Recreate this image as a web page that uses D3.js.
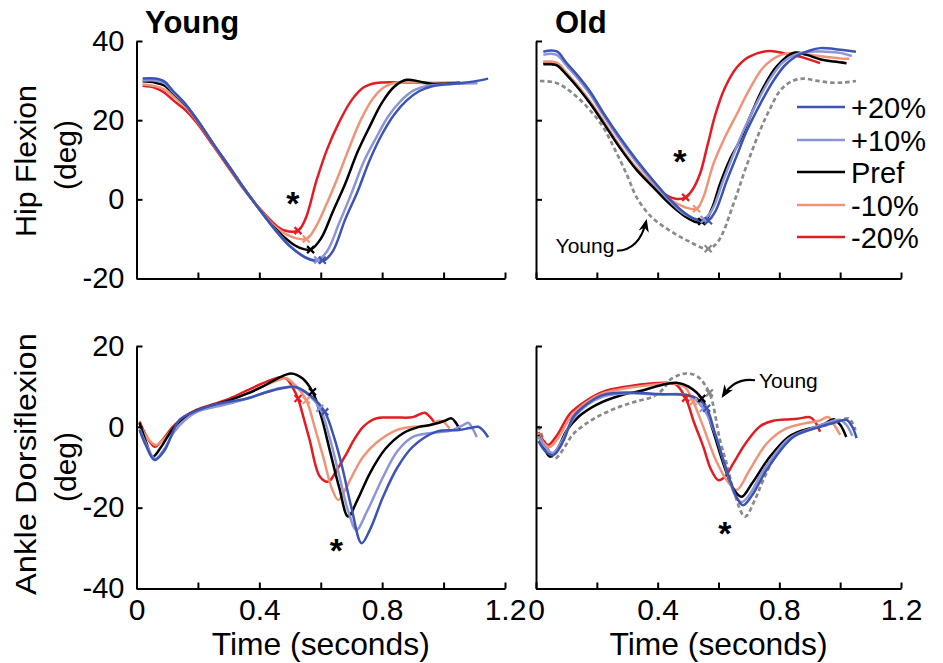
<!DOCTYPE html>
<html><head><meta charset="utf-8">
<script src="https://cdn.jsdelivr.net/npm/d3@7"></script>
<style>
body{margin:0;background:#fff;}
text{font-family:"Liberation Sans",Arial,Helvetica,sans-serif;fill:#000;}
</style></head>
<body><svg id="chart" width="943" height="663"></svg>
<script>
// ---------- DATA ----------
const seriesNames = ["+20%","+10%","Pref","-10%","-20%"];
const seriesColors = ["#3d54b3","#8c95d8","#000000","#f09478","#e31b23"];
const xTicks = [0,0.2,0.4,0.6,0.8,1.0,1.2];
const xTickLabels = ["0","","0.4","","0.8","","1.2"];
const hipTicks = [-20,0,20,40];
const ankleTicks = [-40,-20,0,20];

// Young – hip flexion
const youngHipP20 = [[0.02,30.5],[0.06,30.5],[0.09,29.8],[0.12,27.3],[0.16,24],[0.2,19.8],[0.25,14],[0.3,8.5],[0.35,2.8],[0.4,-2.5],[0.45,-7.6],[0.5,-11.9],[0.55,-14.7],[0.58,-15.5],[0.61,-15.5],[0.64,-13],[0.68,-5],[0.72,2],[0.76,10],[0.8,16.5],[0.84,21.5],[0.88,25],[0.92,27.3],[0.96,28.5],[1.0,29],[1.05,29.3],[1.1,29.8],[1.145,30.5]];
const youngHipP10 = [[0.02,30],[0.06,30],[0.09,29.4],[0.12,27],[0.16,23.9],[0.2,19.8],[0.25,14],[0.3,8.5],[0.35,2.8],[0.4,-2.5],[0.45,-7.5],[0.5,-11.8],[0.55,-14.6],[0.59,-15.3],[0.62,-13.2],[0.66,-6],[0.7,1.5],[0.74,9.5],[0.78,15.5],[0.82,21],[0.86,24.8],[0.9,27.4],[0.95,28.7],[1.0,29],[1.05,29.2],[1.11,29.3]];
const youngHipPref = [[0.02,29.8],[0.06,29.5],[0.09,28.8],[0.12,26.8],[0.16,23.8],[0.2,19.8],[0.25,14],[0.3,8.4],[0.35,2.8],[0.4,-2.5],[0.45,-7.3],[0.5,-10.8],[0.53,-12.2],[0.567,-12.7],[0.6,-10],[0.64,-3],[0.68,4],[0.72,12],[0.76,18.5],[0.8,24.5],[0.84,28.5],[0.88,30.2],[0.92,29.8],[0.96,29.2],[1.0,29.2],[1.053,29.4]];
const youngHipM10 = [[0.02,29],[0.06,28.6],[0.09,27.8],[0.12,26],[0.16,23.3],[0.2,19.5],[0.25,13.8],[0.3,8.2],[0.35,2.6],[0.4,-2.3],[0.45,-6.8],[0.5,-9.3],[0.553,-10],[0.58,-7.5],[0.62,-1],[0.65,4.5],[0.69,12.5],[0.73,20],[0.77,25.5],[0.81,28.5],[0.85,29.5],[0.9,29.6],[0.95,29.4],[1.0,29.4],[1.05,29.4],[1.11,29.6]];
const youngHipM20 = [[0.02,28.7],[0.06,28.2],[0.09,27],[0.12,25],[0.16,22.5],[0.2,19],[0.25,13.5],[0.3,8],[0.35,2.5],[0.4,-2.2],[0.45,-6.3],[0.48,-7.8],[0.526,-7.9],[0.55,-5],[0.586,4.7],[0.62,12.5],[0.66,19.5],[0.7,25],[0.74,28.3],[0.78,29.4],[0.85,29.6],[0.9,29.5],[0.95,29.4],[1.0,29.4],[1.053,29.5]];
const youngHipCross = [[0.605,-15.4],[0.59,-15.3],[0.567,-12.7],[0.553,-10],[0.526,-7.9]];

// Old – hip flexion
const oldHipP20 = [[0.024,37.3],[0.05,37.6],[0.07,37.3],[0.1,34.5],[0.14,31],[0.18,27],[0.22,22],[0.276,15.6],[0.33,10],[0.386,4.7],[0.44,0],[0.49,-3.5],[0.53,-5.2],[0.565,-5.4],[0.59,-3],[0.627,4.7],[0.66,11],[0.693,17.3],[0.74,24.5],[0.78,29.9],[0.82,34],[0.857,36.2],[0.9,37.6],[0.934,38.2],[0.98,38],[1.052,37.3]];
const oldHipP10 = [[0.024,36.5],[0.05,36.8],[0.07,36.4],[0.1,33.8],[0.14,30.3],[0.18,26.3],[0.22,21.4],[0.276,15],[0.33,9.4],[0.386,4.2],[0.44,-0.4],[0.49,-3.8],[0.55,-5.1],[0.58,-2.5],[0.615,4.7],[0.65,11.5],[0.683,17.5],[0.73,25],[0.77,30.5],[0.81,34.5],[0.85,36.5],[0.9,37.3],[0.95,37.3],[1.0,37],[1.038,36.2]];
const oldHipPref = [[0.024,34.1],[0.05,34.1],[0.07,33.8],[0.1,31.5],[0.14,28],[0.18,24],[0.22,19.5],[0.276,13],[0.33,7.5],[0.386,3],[0.44,-1.2],[0.49,-4.3],[0.528,-5.8],[0.555,-5.5],[0.58,-2],[0.605,3.9],[0.64,10.5],[0.67,14.8],[0.71,22],[0.747,28.2],[0.79,33.5],[0.846,37],[0.89,36.5],[0.934,35.4],[0.98,34.8],[1.021,34.4]];
const oldHipM10 = [[0.024,34.8],[0.05,34.8],[0.07,34.5],[0.1,32],[0.14,28.5],[0.18,24.5],[0.22,20],[0.276,13.5],[0.33,8],[0.386,3.5],[0.44,0],[0.49,-2],[0.528,-2.4],[0.55,0.5],[0.583,8.9],[0.62,15.5],[0.66,21.5],[0.7,27.5],[0.747,33.3],[0.8,36.3],[0.85,37],[0.9,36.5],[0.95,36],[1.0,35.6],[1.03,35.5]];
const oldHipM20 = [[0.024,34.5],[0.05,34.5],[0.07,34.2],[0.1,31.8],[0.14,28.3],[0.18,24.3],[0.22,19.8],[0.276,13.3],[0.33,7.8],[0.386,3.5],[0.43,1],[0.462,0.1],[0.492,0.5],[0.515,2.5],[0.539,6.4],[0.565,14],[0.59,21.5],[0.62,28],[0.66,33.3],[0.7,36],[0.769,37.5],[0.82,36.8],[0.879,35.8],[0.934,34.4]];
const oldHipYoung = [[0.013,29.9],[0.05,29.7],[0.07,29.3],[0.1,28],[0.14,25.5],[0.18,22.3],[0.221,18.2],[0.26,12.5],[0.3,6],[0.331,0.5],[0.38,-4.5],[0.44,-7.9],[0.5,-10.5],[0.566,-12.5],[0.6,-10.5],[0.649,-1.2],[0.69,8],[0.736,17.3],[0.77,23],[0.802,27.4],[0.84,29.8],[0.879,30.5],[0.92,30],[0.966,29.5],[1.01,29.5],[1.052,29.9]];
const oldHipCross = [[0.567,-5.4],[0.553,-5.1],[0.545,-5.6],[0.528,-2.4],[0.492,0.5]];
const oldHipYoungCross = [[0.566,-12.5]];

// Young – ankle dorsiflexion
const youngAnkP20 = [[0.01,-0.8],[0.03,-4.5],[0.059,-8.2],[0.09,-6],[0.14,1.7],[0.19,3.8],[0.249,5.4],[0.3,6.2],[0.36,7],[0.412,8.3],[0.47,9.5],[0.521,9.8],[0.57,7.5],[0.613,3.7],[0.645,-3],[0.67,-10],[0.7,-20],[0.733,-28.8],[0.76,-25.5],[0.803,-17.3],[0.85,-10],[0.9,-4.9],[0.977,-1.2],[1.05,-0.8],[1.085,-0.3],[1.113,0],[1.13,-1],[1.145,-2.6]];
const youngAnkP10 = [[0.01,-0.5],[0.03,-4],[0.06,-7.9],[0.09,-5.5],[0.12,-1.5],[0.16,1.8],[0.2,3.8],[0.26,5],[0.31,5.9],[0.36,7],[0.412,8.3],[0.46,9.5],[0.51,9.9],[0.55,8.5],[0.597,4.6],[0.63,-3],[0.66,-12],[0.69,-21],[0.716,-25.5],[0.75,-21],[0.803,-12.4],[0.85,-6],[0.9,-2.5],[0.96,-1.5],[1.02,-1],[1.065,0.5],[1.08,1],[1.095,-0.5],[1.108,-2.5]];
const youngAnkPref = [[0.01,1],[0.03,-3.5],[0.053,-7.4],[0.08,-5],[0.118,-0.5],[0.155,2.3],[0.195,4],[0.25,5.4],[0.303,6.6],[0.36,8.2],[0.412,10],[0.46,12],[0.504,13.2],[0.54,12],[0.573,8.7],[0.6,3],[0.63,-6],[0.66,-15],[0.689,-22.2],[0.72,-18],[0.76,-11.5],[0.81,-5.5],[0.868,-1.6],[0.92,0],[0.96,0.5],[1.0,1.4],[1.026,2.1],[1.04,1],[1.053,-0.8]];
const youngAnkM10 = [[0.01,0.8],[0.03,-2.2],[0.062,-4.5],[0.09,-3],[0.12,-0.3],[0.16,2.3],[0.2,4],[0.26,5.5],[0.31,6.8],[0.37,8.7],[0.42,10.3],[0.46,11.5],[0.488,12],[0.52,10],[0.553,6.6],[0.58,0],[0.61,-8],[0.635,-15],[0.657,-18.1],[0.68,-15.5],[0.71,-11],[0.738,-7.4],[0.78,-4],[0.847,-0.8],[0.9,0],[0.95,0.3],[0.985,1.5],[1.0,1.2],[1.02,-0.5]];
const youngAnkM20 = [[0.01,1.3],[0.03,-2],[0.059,-4.9],[0.085,-3.2],[0.118,0],[0.155,2.5],[0.195,4.2],[0.25,5.6],[0.303,7],[0.36,9],[0.412,10.8],[0.466,12.2],[0.49,11.8],[0.51,9.5],[0.526,7],[0.545,2],[0.564,-3.3],[0.597,-12.3],[0.624,-13.6],[0.65,-11],[0.684,-6.6],[0.71,-3],[0.738,0],[0.77,1.8],[0.803,2.3],[0.85,2.3],[0.9,2.4],[0.939,3.5],[0.955,2.5],[0.972,0.9]];
const youngAnkCross = [[0.613,3.7],[0.597,4.6],[0.573,8.7],[0.553,6.6],[0.526,7]];

// Old – ankle dorsiflexion
const oldAnkP20 = [[0.008,-3.5],[0.03,-6],[0.057,-7],[0.09,-3.5],[0.123,2.5],[0.17,5.8],[0.221,7.9],[0.3,8.5],[0.4,8.1],[0.495,7.9],[0.53,7],[0.561,4.6],[0.59,-2],[0.627,-10.7],[0.66,-17.5],[0.681,-19.4],[0.71,-17],[0.758,-10.7],[0.846,-2.5],[0.934,0],[0.98,1],[1.021,1.7],[1.04,0],[1.054,-2.8]];
const oldAnkP10 = [[0.008,-2.3],[0.03,-5],[0.055,-6.5],[0.085,-3.5],[0.123,2],[0.17,5.5],[0.221,7.5],[0.3,8.3],[0.4,8],[0.5,7.8],[0.55,4.6],[0.59,-2],[0.625,-10.5],[0.655,-17],[0.676,-18.6],[0.7,-17],[0.75,-10.5],[0.83,-3],[0.9,-0.5],[0.95,0.8],[1.0,1.7],[1.02,0.5],[1.04,-2.2]];
const oldAnkPref = [[0.008,-2],[0.025,-5],[0.046,-7.4],[0.07,-5.5],[0.1,-1],[0.14,2.5],[0.2,5.5],[0.28,7.8],[0.35,9],[0.41,10.3],[0.462,10.9],[0.5,10],[0.545,7],[0.58,-0.5],[0.62,-10],[0.65,-15.5],[0.676,-17.3],[0.71,-14],[0.769,-7.4],[0.83,-2.5],[0.88,-0.8],[0.92,0],[0.95,0.8],[0.978,1.9],[1.0,0.5],[1.02,-2.5]];
const oldAnkM10 = [[0.008,-1.5],[0.025,-4],[0.045,-5],[0.075,-2.5],[0.115,2.5],[0.16,5.8],[0.221,8.3],[0.3,9.6],[0.386,10.4],[0.45,10.8],[0.49,9.8],[0.517,6.2],[0.55,0],[0.59,-8],[0.63,-13.5],[0.66,-15.6],[0.7,-11],[0.76,-4],[0.82,-0.5],[0.88,0.8],[0.93,1.5],[0.961,2.4],[0.98,0.5],[1.0,-2]];
const oldAnkM20 = [[0.008,-1.3],[0.025,-3.5],[0.04,-4.5],[0.07,-2],[0.112,3.3],[0.16,6.2],[0.221,8.7],[0.3,10],[0.386,10.8],[0.43,10.9],[0.46,10.5],[0.492,7.1],[0.52,1],[0.55,-4.9],[0.575,-10.5],[0.6,-13.2],[0.625,-12],[0.649,-9],[0.69,-4],[0.736,0.1],[0.78,1.5],[0.82,1.8],[0.86,2],[0.9,2.4],[0.915,1.5],[0.934,-1.2]];
const oldAnkYoung = [[0.008,0.2],[0.03,-4],[0.062,-7.8],[0.09,-5.5],[0.12,-2],[0.167,0.9],[0.22,3.2],[0.276,5],[0.33,6.3],[0.386,7.5],[0.42,9.5],[0.44,11.6],[0.47,12.8],[0.495,13.2],[0.53,12.5],[0.57,8.4],[0.605,-3.3],[0.63,-10],[0.649,-15.6],[0.687,-22.2],[0.72,-18],[0.747,-13.2],[0.8,-5.5],[0.86,-1.5],[0.934,0],[0.98,1],[1.027,2.1],[1.04,1],[1.05,-0.8]];
const oldAnkCross = [[0.561,4.6],[0.55,4.6],[0.545,7],[0.517,6.2],[0.492,7.1]];
const oldAnkYoungCross = [[0.57,8.4]];

// ---------- LAYOUT ----------
const svg = d3.select("#chart");
const FONT = '"Liberation Sans",Arial,Helvetica,sans-serif';

const panels = [
  {x0:136.5,x1:505,y0:278.5,y1:41,dom:[-20,40],ticks:hipTicks,showY:true,showX:false,
   series:[youngHipM20,youngHipM10,youngHipPref,youngHipP10,youngHipP20],cross:youngHipCross,
   star:[0.509,0.4]},
  {x0:536,x1:901,y0:278.5,y1:41,dom:[-20,40],ticks:hipTicks,showY:false,showX:false,
   series:[oldHipM20,oldHipM10,oldHipPref,oldHipP10,oldHipP20],cross:oldHipCross,
   young:oldHipYoung,youngCross:oldHipYoungCross,star:[0.473,11]},
  {x0:136.5,x1:505,y0:588.5,y1:346,dom:[-40,20],ticks:ankleTicks,showY:true,showX:true,
   series:[youngAnkM20,youngAnkM10,youngAnkPref,youngAnkP10,youngAnkP20],cross:youngAnkCross,
   star:[0.651,-29.3]},
  {x0:536,x1:901,y0:588.5,y1:346,dom:[-40,20],ticks:ankleTicks,showY:false,showX:true,
   series:[oldAnkM20,oldAnkM10,oldAnkPref,oldAnkP10,oldAnkP20],cross:oldAnkCross,
   young:oldAnkYoung,youngCross:oldAnkYoungCross,star:[0.621,-25]}
];
const drawColors = seriesColors.slice().reverse();

svg.append("defs").append("marker")
  .attr("id","arrow").attr("viewBox","0 0 10 10").attr("refX",8).attr("refY",5)
  .attr("markerWidth",6.5).attr("markerHeight",6.5).attr("orient","auto-start-reverse")
  .append("path").attr("d","M0,1L10,5L0,9L3,5Z").attr("fill","#000");

panels.forEach((p,pi)=>{
  const x = d3.scaleLinear().domain([0,1.2]).range([p.x0,p.x1]);
  const y = d3.scaleLinear().domain(p.dom).range([p.y0,p.y1]);
  p.xs=x; p.ys=y;
  const g = svg.append("g");
  const line = d3.line().x(d=>x(d[0])).y(d=>y(d[1])).curve(d3.curveCatmullRom.alpha(0.5));

  if(p.young){
    g.append("path").datum(p.young).attr("d",line).attr("fill","none")
      .attr("stroke","#8a8a8a").attr("stroke-width",2.7).attr("stroke-dasharray","4.5,3");
  }
  p.series.forEach((s,i)=>{
    g.append("path").datum(s).attr("d",line).attr("fill","none")
      .attr("stroke",drawColors[i]).attr("stroke-width",2.5).attr("stroke-linejoin","round");
  });
  const crossPath = "M-3.5,-3.5L3.5,3.5M-3.5,3.5L3.5,-3.5";
  if(p.youngCross){
    g.selectAll(".yc").data(p.youngCross).join("path").attr("d",crossPath)
      .attr("transform",d=>`translate(${x(d[0])},${y(d[1])})`)
      .attr("stroke","#8a8a8a").attr("stroke-width",2.2);
  }
  p.cross.slice().reverse().forEach((c,i)=>{
    g.append("path").attr("d",crossPath)
      .attr("transform",`translate(${x(c[0])},${y(c[1])})`)
      .attr("stroke",drawColors[i]).attr("stroke-width",2.2);
  });

  // axes
  const xa = d3.axisBottom(x).tickValues(xTicks).tickSizeInner(-6).tickSizeOuter(0).tickPadding(10)
    .tickFormat((d,i)=>p.showX?xTickLabels[i]:"");
  const xg = svg.append("g").attr("transform",`translate(0,${p.y0})`).call(xa);
  xg.selectAll("text").style("font-family",FONT).style("font-size","30px").attr("fill","#000");
  const ya = d3.axisLeft(y).tickValues(p.ticks).tickSizeInner(-6).tickSizeOuter(0).tickPadding(12)
    .tickFormat(d=>p.showY?d:"");
  const yg = svg.append("g").attr("transform",`translate(${p.x0},0)`).call(ya);
  yg.selectAll("text").style("font-family",FONT).style("font-size","29px").attr("fill","#000");
  [xg,yg].forEach(a=>{a.selectAll("path,line").attr("stroke","#000").attr("stroke-width",2);});

  g.append("text").attr("x",x(p.star[0])).attr("y",y(p.star[1])+17).attr("text-anchor","middle")
    .style("font-size","34px").style("font-weight","bold").text("*");
});

// titles
svg.append("text").attr("x",145).attr("y",33).style("font-size","31px").style("font-weight","bold").text("Young");
svg.append("text").attr("x",555).attr("y",33).style("font-size","31px").style("font-weight","bold").text("Old");

// y labels
function ylab(txt,xb,cy,len){
  const t = svg.append("text").attr("transform",`translate(${xb},${cy}) rotate(-90)`).attr("text-anchor","middle")
    .style("font-size","30px").text(txt);
  if(len) t.attr("textLength",len).attr("lengthAdjust","spacingAndGlyphs");
}
ylab("Hip Flexion",36,161,152); ylab("(deg)",75.5,155);
ylab("Ankle Dorsiflexion",36,464,262); ylab("(deg)",75.5,467);

// x labels
[panels[2],panels[3]].forEach(p=>{
  svg.append("text").attr("x",(p.x0+p.x1)/2).attr("y",655).attr("text-anchor","middle")
    .style("font-size","32px").attr("textLength",218).attr("lengthAdjust","spacingAndGlyphs").text("Time (seconds)");
});

// legend
const legY = [107,140,172,205,237];
seriesNames.forEach((n,i)=>{
  svg.append("line").attr("x1",797).attr("x2",845).attr("y1",legY[i]).attr("y2",legY[i])
    .attr("stroke",seriesColors[i]).attr("stroke-width",2.5);
  svg.append("text").attr("x",851).attr("y",legY[i]+10.5).style("font-size","29px").text(n);
});

// "Young" annotations
(function(){
  const p = panels[1], x=p.xs, y=p.ys;
  svg.append("text").attr("x",x(0.161)).attr("y",y(-13.6)).attr("text-anchor","middle")
    .style("font-size","21px").text("Young");
  const a=[0.266,-13],c=[0.34,-12.8],b=[0.362,-5.6];
  svg.append("path").attr("d",`M${x(a[0])},${y(a[1])}Q${x(c[0])},${y(c[1])} ${x(b[0])},${y(b[1])}`)
    .attr("fill","none").attr("stroke","#000").attr("stroke-width",2).attr("marker-end","url(#arrow)");
})();
(function(){
  const p = panels[3], x=p.xs, y=p.ys;
  svg.append("text").attr("x",x(0.733)).attr("y",y(9.6)).style("font-size","21px").text("Young");
  const a=[0.72,11.5],c=[0.655,12.3],b=[0.615,7.7];
  svg.append("path").attr("d",`M${x(a[0])},${y(a[1])}Q${x(c[0])},${y(c[1])} ${x(b[0])},${y(b[1])}`)
    .attr("fill","none").attr("stroke","#000").attr("stroke-width",2).attr("marker-end","url(#arrow)");
})();
</script></body></html>
